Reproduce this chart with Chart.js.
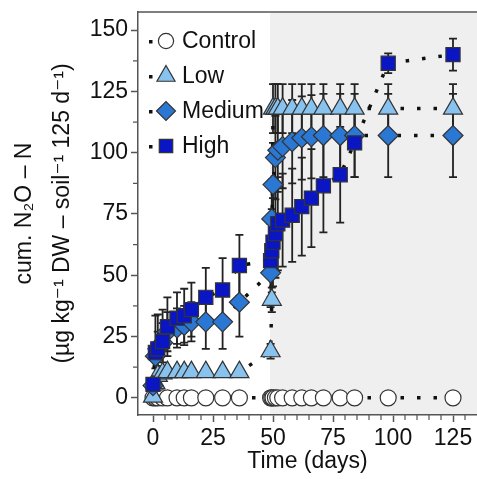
<!DOCTYPE html>
<html>
<head>
<meta charset="utf-8">
<script src="https://cdn.jsdelivr.net/npm/chart.js@4.4.0/dist/chart.umd.min.js"></script>
<style>
  html, body { margin: 0; padding: 0; background: #fff; }
  #wrap { width: 477px; height: 479px; }
</style>
</head>
<body>
<div id="wrap"><canvas id="chartN2O" width="477" height="479"></canvas></div>
<script>
// sampling days (incubation)
const days    = [0, 1, 2, 4, 6, 10, 13, 16, 22, 29, 36, 49, 49.5, 50, 51, 52, 54, 58, 62, 66, 71, 78, 84, 98, 125];
const control = [0, 0, 0, 0, 0, 0, 0, 0, 0, 0, 0, 0, 0, 0, 0, 0, 0, 0, 0, 0, 0, 0, 0, 0, 0];
const low     = [0.5, 6, 9, 10, 10.5, 10.5, 10.5, 10.5, 10.5, 10.5, 10.5, 19, 40, 118, 118, 118, 118, 118, 118, 118, 118, 118, 118, 118, 118];
const medium  = [5, 17, 20, 22.5, 27, 28.5, 29.5, 31, 31, 31, 39, 51, 73, 87, 98, 101, 102.5, 104.5, 106, 106.5, 107, 107, 107, 107, 107];
const high    = [5.5, 18.5, 20, 23, 29, 32.5, 33.5, 36, 41, 44, 54, 56, 60, 63.5, 67, 71, 72.5, 74.5, 78, 81.5, 86.5, 91, 104, 136.5, 140];
// +/- error
const lowErr    = [0.5, 1, 1, 1, 1, 1, 1, 1, 1, 1, 1, 3, 5, 10, 10, 10, 10, 10, 10, 10, 10, 10, 10, 10, 10];
const mediumErr = [2, 5, 7, 8, 8, 8, 8, 8, 11, 11, 14, 14, 16, 17, 17, 17, 17, 17, 17, 17, 17, 17, 17, 17, 17];
const highErr   = [2, 15, 14, 13, 12, 10.5, 11, 11, 12, 13, 12.5, 15, 17, 18, 18, 19, 19, 19, 20, 20, 19, 19.5, 14, 4, 6.5];

const xMajorTicks = [0, 25, 50, 75, 100, 125];
const yMajorTicks = [0, 25, 50, 75, 100, 125, 150];
const shadeStart = 48.8;

const FONT = '"Liberation Sans", Arial, "DejaVu Sans", sans-serif';
const AXIS = '#555';

const series = [
  { label: 'Control', values: control, err: null,      style: 'circle',   radius: 8,   color: '#ffffff' },
  { label: 'Low',     values: low,     err: lowErr,    style: 'triangle', radius: 11,  color: '#88c2ee' },
  { label: 'Medium',  values: medium,  err: mediumErr, style: 'rectRot',  radius: 10,  color: '#2b78d4' },
  { label: 'High',    values: high,    err: highErr,   style: 'rect',     radius: 10,  color: '#0a16c4' }
];

function points(vals) { return vals.map((v, i) => ({ x: days[i], y: v })); }

let datasets = [];
series.forEach((s, k) => {
  // dotted connector, drawn under every marker
  datasets.push({
    data: points(s.values), showLine: true, pointRadius: 0, borderColor: '#111',
    borderWidth: 3.5, borderDash: [3.5, 13], borderCapStyle: 'butt', fill: false, order: 20 + k
  });
});
series.forEach((s, k) => {
  datasets.push({
    data: points(s.values), showLine: false, pointStyle: s.style, pointRadius: s.radius,
    pointBackgroundColor: s.color, pointBorderColor: '#333', pointBorderWidth: 1.2, order: 10 - k
  });
});

const plotExtras = {
  id: 'plotExtras',
  beforeDraw(chart) {
    const { ctx, chartArea: a, scales: { x } } = chart;
    ctx.save();
    ctx.fillStyle = '#efefef';
    const sx = x.getPixelForValue(shadeStart);
    ctx.fillRect(sx, a.top + 1, a.right - sx, a.bottom - a.top - 2);
    ctx.restore();
  },
  beforeDatasetsDraw(chart) {
    const { ctx, scales: { x, y } } = chart;
    ctx.save();
    ctx.strokeStyle = '#222';
    ctx.lineWidth = 1.8;
    series.forEach(s => {
      if (!s.err) return;
      s.values.forEach((v, i) => {
        const e = s.err[i];
        if (!e || e < 2) return;
        const px = x.getPixelForValue(days[i]);
        const t = y.getPixelForValue(v + e), b = y.getPixelForValue(v - e);
        ctx.beginPath();
        ctx.moveTo(px, t); ctx.lineTo(px, b);
        ctx.moveTo(px - 4, t); ctx.lineTo(px + 4, t);
        ctx.moveTo(px - 4, b); ctx.lineTo(px + 4, b);
        ctx.stroke();
      });
    });
    ctx.restore();
  },
  afterDraw(chart) {
    const { ctx, chartArea: a, scales: { x, y } } = chart;
    ctx.save();
    // top frame line
    ctx.strokeStyle = AXIS;
    ctx.lineWidth = 1.5;
    ctx.beginPath();
    ctx.moveTo(a.left, a.top); ctx.lineTo(a.right, a.top);
    ctx.stroke();
    // minor ticks
    ctx.lineWidth = 1.2;
    ctx.beginPath();
    for (let v = 5; v < 135; v += 5) {
      if (v % 25 === 0) continue;
      const px = x.getPixelForValue(v);
      ctx.moveTo(px, a.bottom); ctx.lineTo(px, a.bottom + 5);
    }
    for (let v = 12.5; v < 157; v += 25) {
      const py = y.getPixelForValue(v);
      ctx.moveTo(a.left, py); ctx.lineTo(a.left - 5, py);
    }
    ctx.stroke();

    // legend
    ctx.font = '23px ' + FONT;
    ctx.textBaseline = 'middle';
    ctx.textAlign = 'left';
    series.forEach((s, i) => {
      const ly = 41 + 35 * i;
      ctx.fillStyle = '#111';
      ctx.fillRect(149, ly - 1, 3.5, 3.5);
      ctx.fillStyle = s.color;
      ctx.strokeStyle = '#333';
      ctx.lineWidth = 1.2;
      Chart.helpers.drawPoint(ctx, { pointStyle: s.style, radius: s.radius * 0.95, borderWidth: 1.2, rotation: 0 }, 166, ly);
      ctx.fillStyle = '#111';
      ctx.fillText(s.label, 182, ly + 1);
    });
    ctx.restore();
  }
};

new Chart(document.getElementById('chartN2O'), {
  type: 'scatter',
  data: { datasets: datasets },
  options: {
    responsive: false,
    animation: false,
    layout: { autoPadding: false, padding: { top: 12, right: 0, left: 0, bottom: 0 } },
    plugins: { legend: { display: false }, tooltip: { enabled: false } },
    scales: {
      x: {
        type: 'linear', min: -6.25, max: 135,
        afterBuildTicks: s => { s.ticks = xMajorTicks.map(v => ({ value: v })); },
        afterFit: s => { s.height = 64; s.paddingLeft = 0; s.paddingRight = 0; },
        grid: { display: true, drawOnChartArea: false, drawTicks: true, tickLength: 7, tickColor: AXIS, tickWidth: 1.5 },
        border: { display: true, color: AXIS, width: 1.5 },
        ticks: { color: '#111', padding: 3, maxRotation: 0, autoSkip: false, font: { family: FONT, size: 23 } },
        title: { display: true, text: 'Time (days)', color: '#111', padding: { top: 0, bottom: 4 }, font: { family: FONT, size: 23 } }
      },
      y: {
        type: 'linear', min: -7, max: 157.4,
        afterBuildTicks: s => { s.ticks = yMajorTicks.map(v => ({ value: v })); },
        afterFit: s => { s.width = 138; s.paddingTop = 0; s.paddingBottom = 0; },
        grid: { display: true, drawOnChartArea: false, drawTicks: true, tickLength: 7, tickColor: AXIS, tickWidth: 1.5 },
        border: { display: true, color: AXIS, width: 1.5 },
        ticks: { color: '#111', padding: 3, autoSkip: false, font: { family: FONT, size: 23 } },
        title: {
          display: true,
          text: ['cum. N\u2082O \u2013 N', '(\u00b5g kg\u207b\u00b9 DW \u2013 soil\u207b\u00b9 125 d\u207b\u00b9)'],
          color: '#111', padding: { top: 6, bottom: 0 },
          font: { family: FONT, size: 23, lineHeight: 1.65 }
        }
      }
    }
  },
  plugins: [plotExtras]
});
</script>
</body>
</html>
